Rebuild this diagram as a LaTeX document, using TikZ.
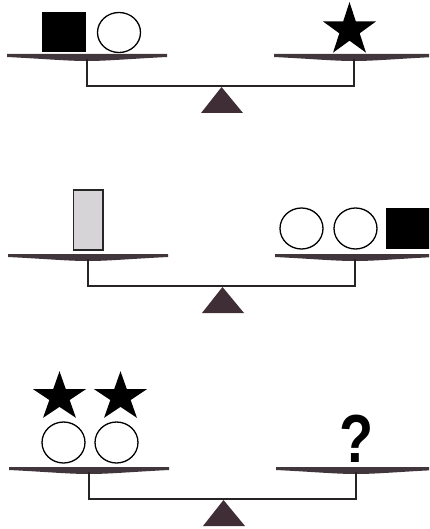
\documentclass[tikz,border=0pt]{standalone}
\usepackage{fontspec}
\newfontfamily\qfont{Liberation Sans}
\definecolor{panc}{RGB}{66,54,61}
\definecolor{beamc}{RGB}{40,36,38}
\definecolor{fulc}{RGB}{64,46,54}
\definecolor{weightc}{RGB}{214,212,214}
\tikzset{
  panfill/.style={fill=panc},
  beam/.style={draw=beamc,line width=2pt},
  fulcrum/.style={fill=fulc},
  blackbox/.style={fill=black},
  ball/.style={draw=black,line width=1.3pt,fill=white},
  weight/.style={draw=black!85,line width=1.2pt,fill=weightc},
  starfill/.style={fill=black},
  qmark/.style={inner sep=0pt,anchor=base,font=\qfont\bfseries\fontsize{68}{68}\selectfont,xscale=0.82},
  pics/balance/.style={code={
    \fill[panfill] (-80,0) -- (80,0) -- (80,3) .. controls (40,5) and (20,7) .. (0,7) .. controls (-20,7) and (-40,5) .. (-80,3) -- cycle;
    \fill[panfill] (187,0) -- (347,0) -- (347,3) .. controls (307,5) and (287,7) .. (267,7) .. controls (247,7) and (227,5) .. (187,3) -- cycle;
    \draw[beam] (0,5) -- (0,32) -- (267,32) -- (267,5);
    \fill[fulcrum] (134.5,33) -- (156,59) -- (114,59) -- cycle;
  }},
  pics/mystar/.style={code={
    \fill[starfill] (-90:#1) \foreach \k in {0,...,4}{ -- ({-54+72*\k}:{0.382*#1}) -- ({-18+72*\k}:#1) } -- cycle;
  }}
}
\begin{document}
\begin{tikzpicture}[x=1pt,y=-1pt]
\useasboundingbox (0,0) rectangle (429,529);
\clip (0,0) rectangle (429,529);
% scale 1
\pic (bal1) at (87,54) {balance};
\fill[blackbox] (42,12) rectangle (86,52);
\draw[ball] (119,32.5) ellipse [x radius=21.5, y radius=20];
\pic (star1) at (349.5,30) {mystar=28};
% scale 2
\pic (bal2) at (88,254) {balance};
\draw[weight] (73.5,190) rectangle (103,250);
\draw[ball] (301.5,228.5) ellipse [x radius=21.5, y radius=20.5];
\draw[ball] (355.5,228.5) ellipse [x radius=21.5, y radius=20.5];
\fill[blackbox] (386,208) rectangle (430,249);
% scale 3
\pic (bal3) at (89,467) {balance};
\pic[yscale=0.92] (star2) at (59.5,397) {mystar=28};
\pic[yscale=0.92] (star3) at (120.5,397) {mystar=28};
\draw[ball] (63.5,442.5) ellipse [x radius=21.5, y radius=20.5];
\draw[ball] (116.5,442.5) ellipse [x radius=21.5, y radius=20.5];
\node[qmark] (q) at (356.5,462) {?};
\end{tikzpicture}
\end{document}
